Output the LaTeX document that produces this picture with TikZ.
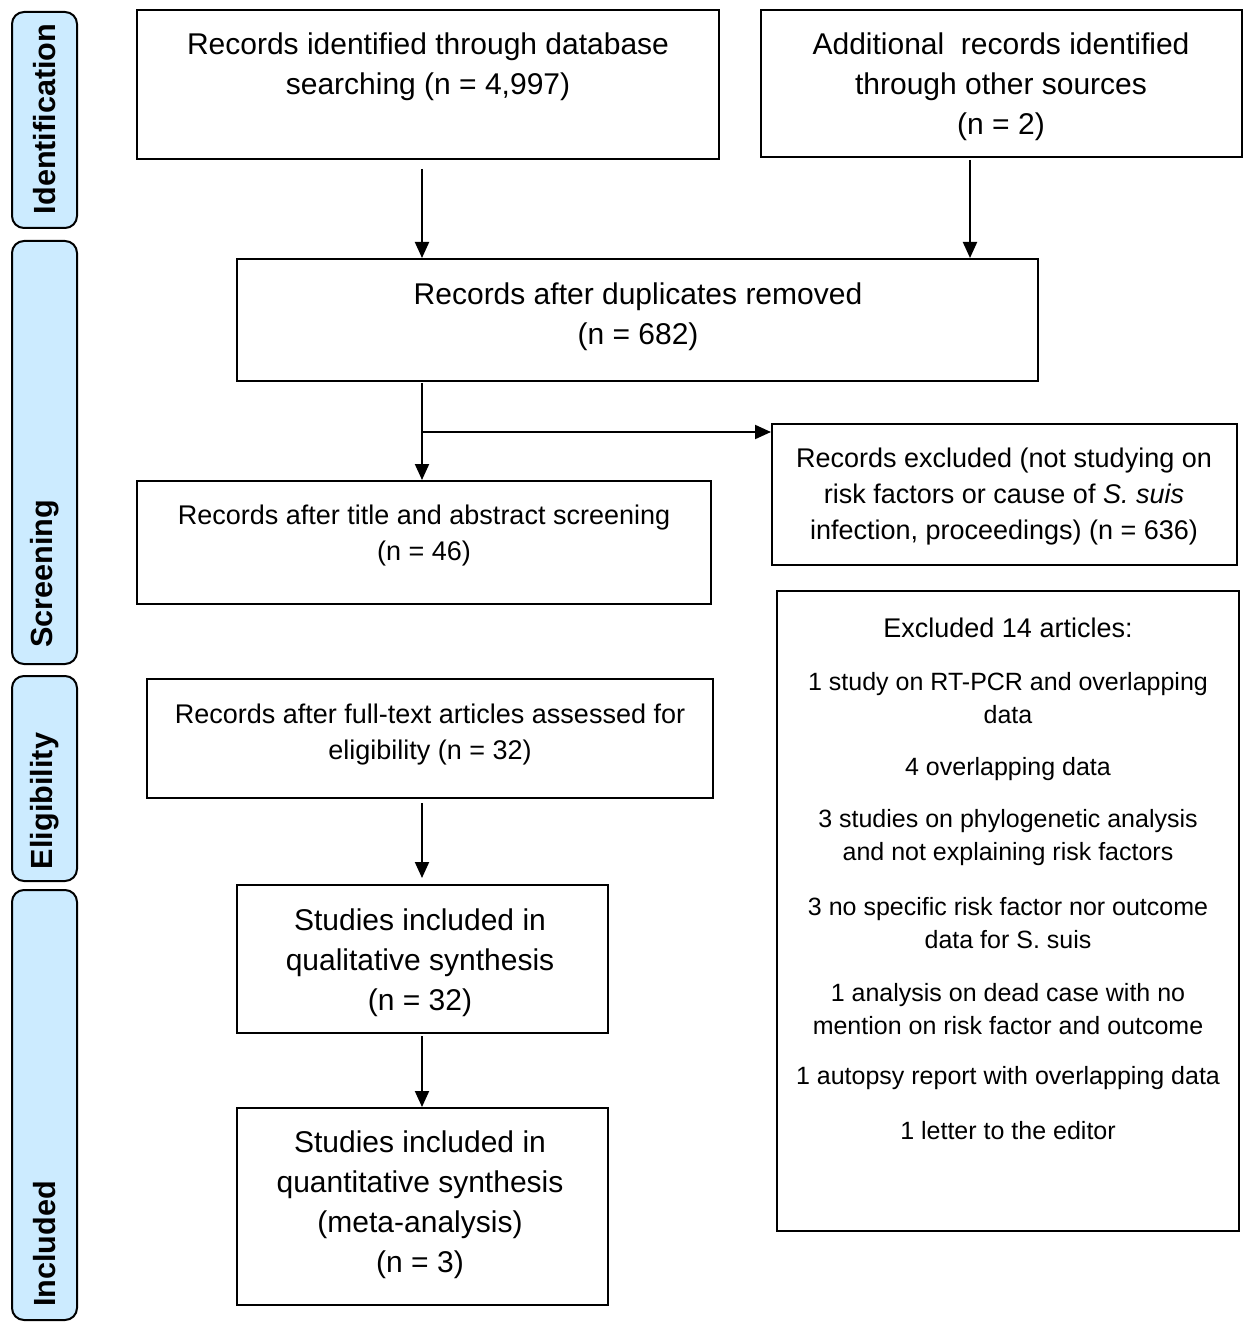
\documentclass[tikz,border=0pt]{standalone}
\usepackage{fontspec}
\setmainfont{Liberation Sans}
\usetikzlibrary{arrows.meta}
\definecolor{sidefill}{HTML}{CCEBFF}
\begin{document}
\begin{tikzpicture}[x=0.5pt,y=-0.5pt,
  box/.style={draw=black, line width=1pt, rectangle, inner sep=0pt},
  side/.style={draw=black, line width=1pt, fill=sidefill, rounded corners=6pt, inner sep=0pt},
  sidetxt/.style={rotate=90, font=\fontsize{15.3pt}{17pt}\selectfont\bfseries},
  big/.style={align=center, font=\fontsize{15pt}{20pt}\selectfont},
  mid/.style={align=center, font=\fontsize{13.5pt}{18pt}\selectfont},
  sml/.style={align=center, font=\fontsize{12.5pt}{16.5pt}\selectfont},
  arr/.style={line width=1pt, -{Triangle[length=8pt,width=7pt]}},
  ln/.style={line width=1pt}]
\useasboundingbox (0,0) rectangle (1250,1332);
% side bars
\node (s1) [side, minimum width=32.5pt, minimum height=108pt] at (44.5,120) {};
\node [sidetxt] at (44.5,119) {Identification};
\node (s2) [side, minimum width=32.5pt, minimum height=211.5pt] at (44.5,452.5) {};
\node [sidetxt] at (44.5,574) {Screening};
\node (s3) [side, minimum width=32.5pt, minimum height=102.5pt] at (44.5,778.5) {};
\node [sidetxt] at (44.5,801) {Eligibility};
\node (s4) [side, minimum width=32.5pt, minimum height=215pt] at (44.5,1105) {};
\node [sidetxt] at (44.5,1244) {Included};
% boxes
\node (A) [box, minimum width=291pt, minimum height=74.5pt] at (428,84.5) {};
\node [big] at (428,67) {Records identified through database\\searching (n = 4,997)};
\node (B) [box, minimum width=240.5pt, minimum height=73.5pt] at (1001.5,83.5) {};
\node [big] at (1001,87) {Additional \ records identified\\through other sources\\(n = 2)};
\node (C) [box, minimum width=400.5pt, minimum height=61pt] at (637.5,320) {};
\node [big] at (638,317) {Records after duplicates removed\\(n = 682)};
\node (D) [box, minimum width=232.5pt, minimum height=70.5pt] at (1004.5,494.5) {};
\node [mid] at (1004,497) {Records excluded (not studying on\\risk factors or cause of \textit{S. suis}\\infection, proceedings) (n = 636)};
\node (E) [box, minimum width=287pt, minimum height=61.5pt] at (424,542.5) {};
\node [mid] at (424,536) {Records after title and abstract screening\\(n = 46)};
\node (F) [box, minimum width=231pt, minimum height=320pt] at (1008,911) {};
\node [mid] at (1008,628) {Excluded 14 articles:};
\node [sml] at (1008,698.5) {1 study on RT-PCR and overlapping\\data};
\node [sml] at (1008,769) {4 overlapping data};
\node [sml] at (1008,838) {3 studies on phylogenetic analysis\\and not explaining risk factors};
\node [sml] at (1008,923.5) {3 no specific risk factor nor outcome\\data for S. suis};
\node [sml] at (1008,1009) {1 analysis on dead case with no\\mention on risk factor and outcome};
\node [sml] at (1008,1078) {1 autopsy report with overlapping data};
\node [sml] at (1008,1131) {1 letter to the editor};
\node (G) [box, minimum width=283pt, minimum height=59.5pt] at (430,738.5) {};
\node [mid] at (430,735) {Records after full-text articles assessed for\\eligibility (n = 32)};
\node (H) [box, minimum width=185.5pt, minimum height=74pt] at (422.5,959) {};
\node [big] at (420,963) {Studies included in\\qualitative synthesis\\(n = 32)};
\node (I) [box, minimum width=185.5pt, minimum height=98.5pt] at (422.5,1206.5) {};
\node [big] at (420,1205) {Studies included in\\quantitative synthesis\\(meta-analysis)\\(n = 3)};
% connectors
\coordinate (a1) at (422,169);
\coordinate (b1) at (970,160);
\coordinate (c1) at (422,383);
\coordinate (br) at (422,432);
\coordinate (g1) at (422,803);
\coordinate (h1) at (422,1036);
\draw[arr] (a1) -- (C.north -| a1);
\draw[arr] (b1) -- (C.north -| b1);
\draw[arr] (c1) -- (E.north -| c1);
\draw[arr] (br) -- (D.west |- br);
\draw[arr] (g1) -- (422,878);
\draw[arr] (h1) -- (I.north -| h1);
\end{tikzpicture}
\end{document}
